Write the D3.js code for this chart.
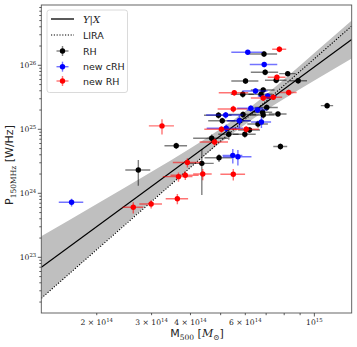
<!DOCTYPE html>
<html><head><meta charset="utf-8">
<script src="https://cdn.jsdelivr.net/npm/d3@7"></script>
<style>body{margin:0;background:#fff}svg{display:block}</style>
</head><body>
<script>
// ---- data (mass in 1e14 Msun, power in 1e24 W/Hz) ----
const rhM    = [6.89,6.95,6.01,5.89,6.85,6.74,8.21,8.87,7.54,7.03,10.99,4.92,5.06,5.90,5.76,5.31,4.68,3.60,4.94,4.35,2.72,7.78,6.82,6.85,7.64,6.59,5.98,6.19];
const rhP    = [150,77.8,56.9,35.2,41.1,35.2,74.0,57.4,58.3,21.9,23.4,16.6,13.6,17.0,13.6,8.35,7.26,5.54,3.59,2.94,2.31,5.38,18.5,16.7,17.3,12.1,8.35,9.75];
const rhMerr = [0.7,0.7,0.6,0.5,0.6,0.6,0.5,0.6,0.6,0.6,0.5,0.5,0.5,0.6,0.5,0.4,0.6,0.3,0.5,0.4,0.25,0.4,0.5,0.6,0.5,0.5,0.5,0.5];
const rhPerr = [15,8,6,4,4,4,7,6,6,2.5,2.5,2,1.5,2,1.5,1.5,1.0,0.6,0.5,2.0,1.0,0.6,2,2,1.5,1.5,1,1];

const cM    = [6.11,6.90,6.47,7.08,6.25,6.57,5.19,5.74,6.76,5.21,5.47,5.68,1.66];
const cP    = [160,103,39.6,33.1,21.3,20.0,16.7,13.6,13.0,10.4,3.92,3.73,0.723];
const cMerr = [0.7,0.7,0.6,0.5,0.6,0.5,0.7,0.5,0.5,0.7,0.4,0.6,0.15];
const cPerr = [12,10,4,3,2.5,2,2,3,2.5,1.5,1.0,1.0,0.1];

const nM    = [7.72,5.53,6.85,5.49,7.58,8.27,7.38,5.03,6.04,4.78,3.24,3.91,3.66,3.85,4.38,5.49,3.63,2.99,2.62];
const nP    = [178,37.3,30.8,20.8,64.9,37.6,31.6,10.0,10.0,6.34,11.3,3.03,1.82,1.91,2.00,1.99,0.824,0.681,0.604];
const nMerr = [0.4,0.6,0.6,0.6,0.5,0.5,0.5,0.6,0.6,0.5,0.3,0.4,0.4,0.4,0.3,0.5,0.3,0.25,0.2];
const nPerr = [18,4,3,2.5,6,4,3,1.2,1.2,0.8,3,0.5,0.3,0.3,0.4,0.4,0.15,0.1,0.12];

// fit lines (endpoints) and confidence band
const fitM   = [1.327, 13.18];
const fitYX  = [0.0698, 253];
const fitLIRA= [0.0229, 411];
const bandM    = [1.327,2,3,4,5,6,8,10,13.18];
const bandLow  = [0.0229,0.134,0.757,2.54,6.21,12.0,29.9,57.7,128];
const bandHigh = [0.213,0.679,2.17,5.06,10.2,19.2,60.5,155,501];

const xTicks = [2,3,4,6,10];
const xTickLabels = [["2 × 10","14"],["3 × 10","14"],["4 × 10","14"],["6 × 10","14"],["10","15"]];
const yTicks = [0.1,1,10,100];
const yTickLabels = [["10","23"],["10","24"],["10","25"],["10","26"]];

// ---- drawing ----
const W=357,H=347;
const L=41.3,R=351.7,T=5,B=313;
const svg=d3.select("body").append("svg").attr("width",W).attr("height",H);
const x=d3.scaleLog().domain([1.327,13.18]).range([L,R]);
const y=d3.scaleLog().domain([0.01349,875]).range([B,T]);

svg.append("defs").append("clipPath").attr("id","clip")
  .append("rect").attr("x",L).attr("y",T).attr("width",R-L).attr("height",B-T);
const g=svg.append("g").attr("clip-path","url(#clip)");

// band
const area=d3.area().x((d,i)=>x(bandM[i])).y0((d,i)=>y(bandLow[i])).y1((d,i)=>y(bandHigh[i])).curve(d3.curveMonotoneX);
g.append("path").attr("d",area(bandM)).attr("fill","#bfbfbf").attr("stroke","none");
const line=d3.line();
g.append("path").attr("d",line(fitM.map((m,i)=>[x(m),y(fitYX[i])]))).attr("stroke","#000").attr("stroke-width",1.3).attr("fill","none");
g.append("path").attr("d",line(fitM.map((m,i)=>[x(m),y(fitLIRA[i])]))).attr("stroke","#000").attr("stroke-width",1.1).attr("stroke-dasharray","1.2,1.6").attr("fill","none");

function series(M,P,Me,Pe,col,ecol){
  const s=g.append("g");
  M.forEach((m,i)=>{
    s.append("line").attr("x1",x(m-Me[i])).attr("x2",x(m+Me[i])).attr("y1",y(P[i])).attr("y2",y(P[i]))
      .attr("stroke",ecol).attr("stroke-width",1.4);
    s.append("line").attr("x1",x(m)).attr("x2",x(m)).attr("y1",y(Math.max(P[i]-Pe[i],1e-4))).attr("y2",y(P[i]+Pe[i]))
      .attr("stroke",ecol).attr("stroke-width",1.4);
  });
  M.forEach((m,i)=>{
    s.append("circle").attr("cx",x(m)).attr("cy",y(P[i])).attr("r",2.7).attr("fill",col);
  });
}
series(rhM,rhP,rhMerr,rhPerr,"#000","rgba(0,0,0,0.5)");
series(cM,cP,cMerr,cPerr,"#0000ff","rgba(0,0,255,0.55)");
series(nM,nP,nMerr,nPerr,"#ff0000","rgba(255,0,0,0.55)");

// frame
svg.append("rect").attr("x",L).attr("y",T).attr("width",R-L).attr("height",B-T).attr("fill","none").attr("stroke","#555").attr("stroke-width",0.9);

// ticks
const ax=svg.append("g").attr("stroke","#333").attr("stroke-width",0.8);
// x minor
const xMinor=[2,3,4,5,6,7,8,9];
xMinor.forEach(v=>{ax.append("line").attr("x1",x(v)).attr("x2",x(v)).attr("y1",B).attr("y2",B+2.2);});
ax.append("line").attr("x1",x(10)).attr("x2",x(10)).attr("y1",B).attr("y2",B+3.5);
// y ticks
for(let e=-2;e<=2;e++){
  for(let k=1;k<=9;k++){
    const v=k*Math.pow(10,e);
    if(v<0.01349||v>875) continue;
    ax.append("line").attr("x1",L).attr("x2",L-(k===1?3.5:2)).attr("y1",y(v)).attr("y2",y(v));
  }
}
const tf="'DejaVu Serif', serif";
xTicks.forEach((v,i)=>{
  const t=svg.append("text").attr("x",x(v)).attr("y",B+12).attr("text-anchor","middle")
    .attr("font-family",tf).attr("font-size",7.6).attr("fill","#222");
  t.append("tspan").text(xTickLabels[i][0]);
  t.append("tspan").attr("dy",-3.3).attr("font-size",5.4).text(xTickLabels[i][1]);
});
yTicks.forEach((v,i)=>{
  const t=svg.append("text").attr("x",L-5).attr("y",y(v)+3).attr("text-anchor","end")
    .attr("font-family",tf).attr("font-size",7.6).attr("fill","#222");
  t.append("tspan").text(yTickLabels[i][0]);
  t.append("tspan").attr("dy",-3.3).attr("font-size",5.4).text(yTickLabels[i][1]);
});

// axis labels
const sf="'DejaVu Sans', sans-serif";
const xl=svg.append("text").attr("x",197).attr("y",337).attr("text-anchor","middle").attr("font-family",sf).attr("font-size",11).attr("fill","#222");
xl.append("tspan").text("M");
xl.append("tspan").attr("dy",2.5).attr("font-size",7.5).attr("font-family",tf).text("500");
xl.append("tspan").attr("dy",-2.5).text(" [");
xl.append("tspan").attr("font-family",tf).attr("font-style","italic").text("M");
xl.append("tspan").attr("dy",2.5).attr("font-size",7.5).attr("font-family",tf).text("⊙");
xl.append("tspan").attr("dy",-2.5).text("]");

const yl=svg.append("text").attr("transform","translate(13,165) rotate(-90)").attr("text-anchor","middle").attr("font-family",sf).attr("font-size",11).attr("fill","#222");
yl.append("tspan").text("P");
yl.append("tspan").attr("dy",2.5).attr("font-size",7.5).attr("font-family",tf).text("150MHz");
yl.append("tspan").attr("dy",-2.5).text(" [W/Hz]");

// legend
const lg=svg.append("g");
lg.append("rect").attr("x",47).attr("y",10).attr("width",80.5).attr("height",82.5).attr("rx",2.5)
  .attr("fill","#fff").attr("fill-opacity",0.8).attr("stroke","#d0d0d0").attr("stroke-width",0.8);
const lx1=51,lx2=74,ltx=83;
const rows=[19,35,51,66.7,81];
lg.append("line").attr("x1",lx1).attr("x2",lx2).attr("y1",rows[0]).attr("y2",rows[0]).attr("stroke","#000").attr("stroke-width",1.3);
lg.append("line").attr("x1",lx1).attr("x2",lx2).attr("y1",rows[1]).attr("y2",rows[1]).attr("stroke","#000").attr("stroke-width",1.1).attr("stroke-dasharray","1.2,1.6");
const lt=lg.append("text").attr("x",ltx).attr("y",rows[0]+3.5).attr("font-family",tf).attr("font-style","italic").attr("font-size",10).attr("fill","#222").text("Y|X");
lg.append("text").attr("x",ltx).attr("y",rows[1]+3.5).attr("font-family",sf).attr("font-size",9.5).attr("fill","#222").text("LIRA");
const legS=[["RH","#000","rgba(0,0,0,0.5)"],["new cRH","#0000ff","rgba(0,0,255,0.55)"],["new RH","#ff0000","rgba(255,0,0,0.55)"]];
legS.forEach((s,i)=>{
  const yy=rows[i+2], cx=62.5;
  lg.append("line").attr("x1",cx-6).attr("x2",cx+6).attr("y1",yy).attr("y2",yy).attr("stroke",s[2]).attr("stroke-width",1.4);
  lg.append("line").attr("x1",cx).attr("x2",cx).attr("y1",yy-5).attr("y2",yy+5).attr("stroke",s[2]).attr("stroke-width",1.4);
  lg.append("circle").attr("cx",cx).attr("cy",yy).attr("r",2.7).attr("fill",s[1]);
  lg.append("text").attr("x",ltx).attr("y",yy+3.5).attr("font-family",sf).attr("font-size",9.5).attr("fill","#222").text(s[0]);
});
</script>
</body></html>
